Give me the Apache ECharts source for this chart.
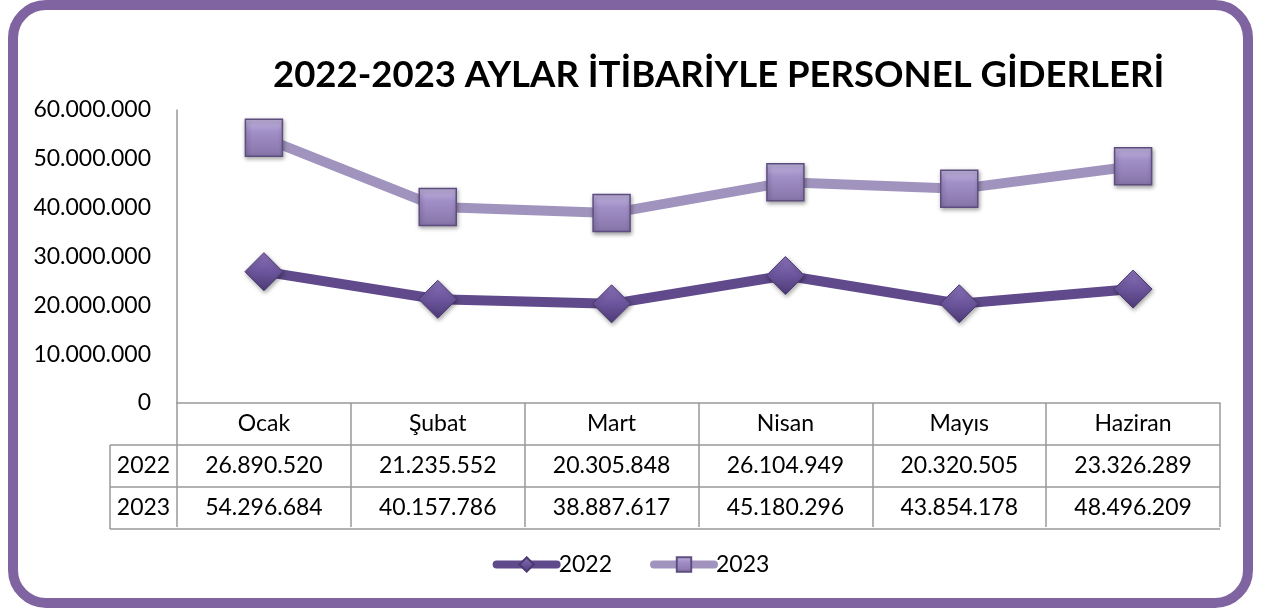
<!DOCTYPE html>
<html>
<head>
<meta charset="utf-8">
<script src="https://cdn.jsdelivr.net/npm/echarts@6/dist/echarts.min.js"></script>
<style>
    html, body { margin: 0; padding: 0; background: #fff; }
    #chart { position: absolute; left: 0; top: 0; width: 1262px; height: 609px; }
    #frame {
        position: absolute; left: 8px; top: 0; width: 1245px; height: 608px;
        box-sizing: border-box; border: 10px solid #8064A2; border-radius: 38px;
        pointer-events: none;
    }
</style>
</head>
<body>
<div id="chart"></div>
<div id="frame"></div>
<script>
'use strict';
const months = ["Ocak", "Şubat", "Mart", "Nisan", "Mayıs", "Haziran"];
const seriesNames = ["2022", "2023"];
const data2022 = [26890520, 21235552, 20305848, 26104949, 20320505, 23326289];
const data2023 = [54296684, 40157786, 38887617, 45180296, 43854178, 48496209];
const yTicks = [0, 10000000, 20000000, 30000000, 40000000, 50000000, 60000000];

const font = "Lato, 'Noto Sans', sans-serif";
const fontSize = 23;
const rowH = 42;

function fmt(v) {
    return String(v).replace(/\B(?=(\d{3})+(?!\d))/g, ".");
}

const chart = echarts.init(document.getElementById("chart"));

const option = {
    backgroundColor: "#fff",
    animation: false,
    textStyle: { fontFamily: font },
    title: {
        text: "2022-2023 AYLAR İTİBARİYLE PERSONEL GİDERLERİ",
        left: 268,
        top: 52,
        textStyle: { fontFamily: font, fontWeight: "bold", fontSize: 36.5, color: "#000" }
    },
    legend: {
        bottom: 28,
        left: "center",
        itemWidth: 60,
        itemHeight: 18,
        itemGap: 38,
        lineStyle: { width: 8, cap: "round" },
        textStyle: { fontFamily: font, fontSize: fontSize, color: "#000", padding: [0, 0, 0, -3] },
        data: seriesNames
    },
    grid: { left: 177, right: 42, top: 110, bottom: 206 },
    xAxis: {
        type: "category",
        data: months,
        boundaryGap: true,
        axisLine: { lineStyle: { color: "#999", width: 1.5 } },
        axisTick: { show: true, length: rowH * 3 - 2, lineStyle: { color: "#999", width: 1.5 } },
        axisLabel: {
            margin: 0,
            interval: 0,
            formatter: (val, idx) => `{c|${val}}\n{v|${fmt(data2022[idx])}}\n{v|${fmt(data2023[idx])}}`,
            rich: {
                c: { fontFamily: font, fontSize: fontSize, color: "#000", lineHeight: rowH, height: rowH },
                v: { fontFamily: font, fontSize: fontSize, color: "#000", lineHeight: rowH, height: rowH }
            }
        }
    },
    yAxis: {
        type: "value",
        min: yTicks[0],
        max: yTicks[yTicks.length - 1],
        interval: yTicks[1] - yTicks[0],
        splitLine: { show: false },
        axisLine: { show: true, lineStyle: { color: "#999", width: 1.5 } },
        axisTick: { show: false },
        axisLabel: {
            margin: 26,
            fontFamily: font,
            fontSize: fontSize,
            color: "#000",
            formatter: v => fmt(v)
        }
    },
    series: [{
        name: seriesNames[0],
        type: "line",
        data: data2022,
        symbol: "diamond",
        symbolSize: 38,
        lineStyle: { width: 10, color: "#604A8C", cap: "round" },
        itemStyle: {
            color: new echarts.graphic.LinearGradient(0, 0, 0, 1, [
                { offset: 0, color: "#8A73B8" },
                { offset: 0.5, color: "#6C559C" },
                { offset: 1, color: "#4E3B78" }
            ]),
            borderColor: "#4A3A70",
            borderWidth: 1,
            shadowBlur: 4,
            shadowOffsetX: 1,
            shadowOffsetY: 2,
            shadowColor: "rgba(0,0,0,0.35)"
        },
        z: 3
    }, {
        name: seriesNames[1],
        type: "line",
        data: data2023,
        symbol: "rect",
        symbolSize: 37,
        lineStyle: { width: 10, color: "#A094BE", cap: "round" },
        itemStyle: {
            color: new echarts.graphic.LinearGradient(0, 0, 0, 1, [
                { offset: 0, color: "#C3B6E0" },
                { offset: 0.35, color: "#A08EC6" },
                { offset: 1, color: "#8674A8" }
            ]),
            borderColor: "#5E4E80",
            borderWidth: 1.5,
            shadowBlur: 4,
            shadowOffsetX: 1,
            shadowOffsetY: 2,
            shadowColor: "rgba(0,0,0,0.35)"
        },
        z: 2
    }]
};

chart.setOption(option);

// data table: row headers and horizontal rules, placed from the axes
const x0 = chart.convertToPixel({ xAxisIndex: 0 }, months[0]);
const x1 = chart.convertToPixel({ xAxisIndex: 0 }, months[1]);
const band = x1 - x0;
const tableLeft = x0 - band / 2;
const tableRight = chart.convertToPixel({ xAxisIndex: 0 }, months[months.length - 1]) + band / 2;
const axisY = chart.convertToPixel({ yAxisIndex: 0 }, 0);
const headLeft = tableLeft - 67;
const ruleStyle = { stroke: "#999", lineWidth: 1.5 };

const graphics = [];
[1, 2, 3].forEach(r => {
    graphics.push({
        type: "line",
        shape: { x1: headLeft, y1: axisY + r * rowH, x2: tableRight, y2: axisY + r * rowH },
        style: ruleStyle
    });
});
graphics.push({
    type: "line",
    shape: { x1: headLeft, y1: axisY + rowH, x2: headLeft, y2: axisY + 3 * rowH },
    style: ruleStyle
});
seriesNames.forEach((name, i) => {
    graphics.push({
        type: "text",
        x: (headLeft + tableLeft) / 2,
        y: axisY + (i + 1.5) * rowH,
        style: {
            text: name,
            fontFamily: font,
            fontSize: fontSize,
            fill: "#000",
            align: "center",
            verticalAlign: "middle"
        }
    });
});

chart.setOption({ graphic: graphics });
</script>
</body>
</html>
